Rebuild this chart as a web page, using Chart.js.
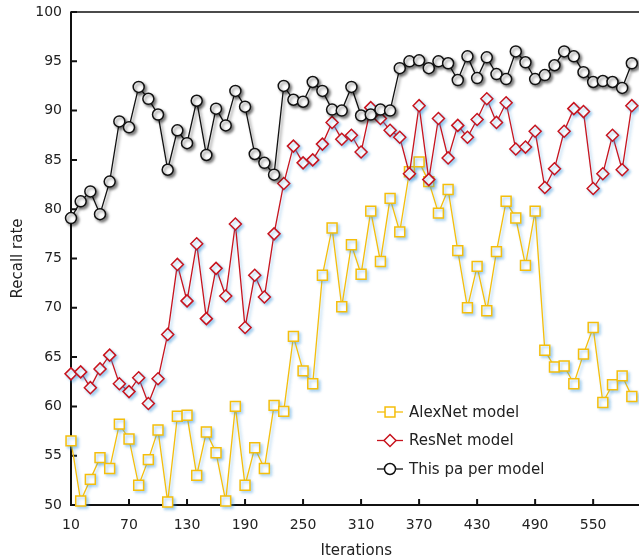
<!DOCTYPE html>
<html>
<head>
<meta charset="utf-8">
<script src="https://cdn.jsdelivr.net/npm/chart.js"></script>
<style>
  html, body { margin: 0; padding: 0; background: #fff; overflow: hidden; }
</style>
</head>
<body>
<canvas id="chart" width="650" height="560"></canvas>
<script>
const iterations = [10, 20, 30, 40, 50, 60, 70, 80, 90, 100,
  110, 120, 130, 140, 150, 160, 170, 180, 190, 200,
  210, 220, 230, 240, 250, 260, 270, 280, 290, 300,
  310, 320, 330, 340, 350, 360, 370, 380, 390, 400,
  410, 420, 430, 440, 450, 460, 470, 480, 490, 500,
  510, 520, 530, 540, 550, 560, 570, 580, 590];

const alexnet = [56.5, 50.4, 52.6, 54.8, 53.7, 58.2, 56.7, 52.0, 54.6, 57.6,
  50.3, 59.0, 59.1, 53.0, 57.4, 55.3, 50.4, 60.0, 52.0, 55.8,
  53.7, 60.1, 59.5, 67.1, 63.6, 62.3, 73.3, 78.1, 70.1, 76.4,
  73.4, 79.8, 74.7, 81.1, 77.7, 83.8, 84.8, 82.8, 79.6, 82.0,
  75.8, 70.0, 74.2, 69.7, 75.7, 80.8, 79.1, 74.3, 79.8, 65.7,
  64.0, 64.1, 62.3, 65.3, 68.0, 60.4, 62.2, 63.1, 61.0];

const resnet = [63.3, 63.5, 61.9, 63.8, 65.2, 62.3, 61.5, 62.9, 60.3, 62.8,
  67.3, 74.4, 70.7, 76.5, 68.9, 74.0, 71.2, 78.5, 68.0, 73.3,
  71.1, 77.5, 82.6, 86.4, 84.7, 85.0, 86.6, 88.8, 87.1, 87.5,
  85.8, 90.3, 89.2, 88.0, 87.3, 83.6, 90.5, 83.0, 89.2, 85.2,
  88.5, 87.3, 89.1, 91.2, 88.8, 90.8, 86.1, 86.3, 87.9, 82.2,
  84.1, 87.9, 90.2, 89.9, 82.1, 83.6, 87.5, 84.0, 90.5];

const thisPaper = [79.1, 80.8, 81.8, 79.5, 82.8, 88.9, 88.3, 92.4, 91.2, 89.6,
  84.0, 88.0, 86.7, 91.0, 85.5, 90.2, 88.5, 92.0, 90.4, 85.6,
  84.7, 83.5, 92.5, 91.1, 90.9, 92.9, 92.0, 90.1, 90.0, 92.4,
  89.5, 89.6, 90.1, 90.0, 94.3, 95.0, 95.1, 94.3, 95.0, 94.8,
  93.1, 95.5, 93.3, 95.4, 93.7, 93.2, 96.0, 94.9, 93.2, 93.6,
  94.6, 96.0, 95.5, 93.9, 92.9, 93.0, 92.9, 92.3, 94.8];

const xTicks = [10, 70, 130, 190, 250, 310, 370, 430, 490, 550];
const yTicks = [50, 55, 60, 65, 70, 75, 80, 85, 90, 95, 100];

const FONT = 'DejaVu Sans, Verdana, sans-serif';

const toPoints = (vals) => vals.map((v, i) => ({ x: iterations[i], y: v }));

// black frame + short inward tick marks
const frameTicks = {
  id: 'frameTicks',
  beforeDatasetsDraw(chart) {
    const { ctx, chartArea: a, scales: { x, y } } = chart;
    ctx.save();
    ctx.strokeStyle = '#111';
    ctx.lineWidth = 1.5;
    ctx.strokeRect(a.left, a.top, a.right - a.left, a.bottom - a.top);
    ctx.lineWidth = 2;
    ctx.beginPath();
    ctx.moveTo(a.left, a.top);
    ctx.lineTo(a.left, a.bottom);
    ctx.lineTo(a.right, a.bottom);
    x.ticks.forEach(t => {
      const px = x.getPixelForValue(t.value);
      ctx.moveTo(px, a.bottom);
      ctx.lineTo(px, a.bottom - 6);
    });
    y.ticks.forEach(t => {
      const py = y.getPixelForValue(t.value);
      ctx.moveTo(a.left, py);
      ctx.lineTo(a.left + 6, py);
    });
    ctx.stroke();
    ctx.restore();
  }
};

// soft drop shadow under each series
const shadow = {
  id: 'shadow',
  beforeDatasetDraw(chart, args) {
    const ctx = chart.ctx;
    ctx.save();
    ctx.shadowColor = chart.data.datasets[args.index].shadowColor || 'rgba(0,0,0,0.3)';
    ctx.shadowBlur = 3;
    ctx.shadowOffsetX = 2;
    ctx.shadowOffsetY = 2;
  },
  afterDatasetDraw(chart) {
    chart.ctx.restore();
  }
};

function marker(ctx, style, x, y, r) {
  ctx.beginPath();
  if (style === 'circle') {
    ctx.arc(x, y, r, 0, Math.PI * 2);
  } else if (style === 'rect') {
    const s = r * Math.SQRT1_2;
    ctx.rect(x - s, y - s, 2 * s, 2 * s);
  } else {
    ctx.moveTo(x, y - r); ctx.lineTo(x + r, y);
    ctx.lineTo(x, y + r); ctx.lineTo(x - r, y);
    ctx.closePath();
  }
  ctx.fill();
  ctx.stroke();
}

// legend drawn inside the plot: line + marker + label
const innerLegend = {
  id: 'innerLegend',
  afterDraw(chart) {
    const ctx = chart.ctx;
    const rows = [0, 1, 2];
    ctx.save();
    rows.forEach((i, k) => {
      const ds = chart.data.datasets[i];
      const y = 412 + k * 28.5;
      ctx.strokeStyle = ds.borderColor;
      ctx.lineWidth = 1.3;
      ctx.beginPath();
      ctx.moveTo(377, y);
      ctx.lineTo(403, y);
      ctx.stroke();
      ctx.fillStyle = '#fff';
      ctx.lineWidth = 1.5;
      marker(ctx, ds.pointStyle, 390, y, ds.pointRadius);
      ctx.fillStyle = '#222';
      ctx.font = '15px ' + FONT;
      ctx.textBaseline = 'middle';
      ctx.fillText(ds.label, 409, y + 1);
    });
    ctx.restore();
  }
};

new Chart(document.getElementById('chart'), {
  type: 'line',
  data: {
    datasets: [
      {
        label: 'AlexNet model',
        data: toPoints(alexnet),
        borderColor: '#f5be0b',
        pointStyle: 'rect',
        pointRadius: 7,
        shadowColor: 'rgba(60,150,220,0.45)',
        order: 3
      },
      {
        label: 'ResNet model',
        data: toPoints(resnet),
        borderColor: '#c8141e',
        pointStyle: 'rectRot',
        pointRadius: 6,
        shadowColor: 'rgba(60,150,220,0.45)',
        order: 2
      },
      {
        label: 'This pa per model',
        data: toPoints(thisPaper),
        borderColor: '#111',
        pointStyle: 'circle',
        pointRadius: 5.5,
        shadowColor: 'rgba(0,0,0,0.5)',
        order: 1
      }
    ]
  },
  options: {
    responsive: false,
    animation: false,
    clip: false,
    layout: { padding: { top: 12, right: 3, left: 0, bottom: 0 } },
    elements: {
      line: { borderWidth: 1.3, tension: 0 },
      point: { backgroundColor: '#fff', borderWidth: 1.5 }
    },
    plugins: {
      legend: { display: false },
      tooltip: { enabled: false }
    },
    scales: {
      x: {
        type: 'linear',
        min: 10,
        max: 600,
        afterBuildTicks: (scale) => { scale.ticks = xTicks.map(v => ({ value: v })); },
        afterFit: (scale) => { scale.height = 55; scale.paddingLeft = 0; scale.paddingRight = 0; },
        grid: { display: true, drawOnChartArea: false, drawTicks: false },
        border: { display: false },
        ticks: { font: { family: FONT, size: 14 }, color: '#222', padding: 12, maxRotation: 0 },
        title: { display: true, text: 'Iterations', font: { family: FONT, size: 15 }, color: '#222', padding: { top: 2, bottom: 0 } }
      },
      y: {
        min: 50,
        max: 100,
        afterBuildTicks: (scale) => { scale.ticks = yTicks.map(v => ({ value: v })); },
        afterFit: (scale) => { scale.width = 71; scale.paddingTop = 0; scale.paddingBottom = 0; },
        grid: { display: true, drawOnChartArea: false, drawTicks: false },
        border: { display: false },
        ticks: { font: { family: FONT, size: 14 }, color: '#222', padding: 9 },
        title: { display: true, text: 'Recall rate', font: { family: FONT, size: 15 }, color: '#222', padding: { top: 9, bottom: 0 } }
      }
    }
  },
  plugins: [frameTicks, shadow, innerLegend]
});
</script>
</body>
</html>
